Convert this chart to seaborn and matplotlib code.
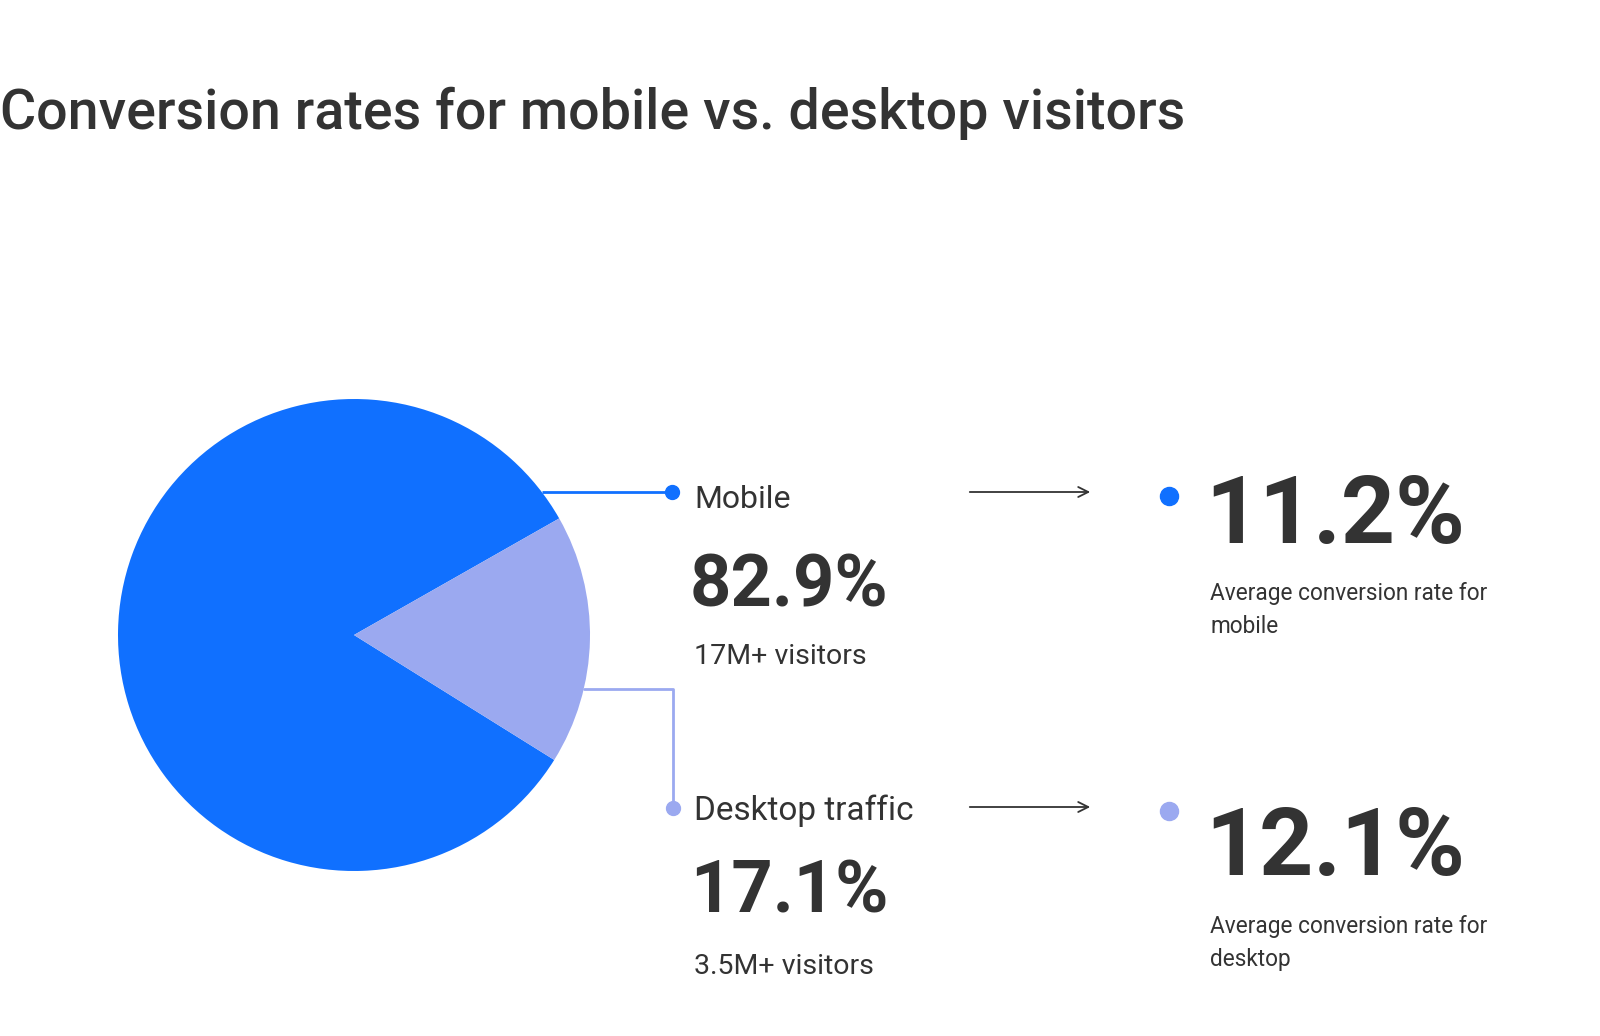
import numpy as np
import matplotlib
matplotlib.use('Agg')
import matplotlib.pyplot as plt
import seaborn as sns

# data
segments = ['Mobile', 'Desktop traffic']
share = [82.9, 17.1]
visitors = ['17M+ visitors', '3.5M+ visitors']
conv_rate = [11.2, 12.1]
conv_label = ['Average conversion rate for\nmobile', 'Average conversion rate for\ndesktop']
title = 'Conversion rates for mobile vs. desktop visitors'

colors = ['#1070ff', '#9ba9f0']
ink = '#333333'

sns.set_style('white')
plt.rcParams['font.family'] = ['Roboto', 'DejaVu Sans']

W, H = 1600, 1036
fig = plt.figure(figsize=(16, 10.36), dpi=100)
ax = fig.add_axes([0, 0, 1, 1])

# pie in pixel space (y flipped so numbers read like the image)
cx, cy, r = 354, 635, 236
ax.pie(share, colors=colors, startangle=29.6, counterclock=True,
       center=(cx, H - cy), radius=r, wedgeprops=dict(linewidth=0))
ax.set_xlim(0, W)
ax.set_ylim(0, H)
ax.axis('off')

def Y(y):
    return H - y

# leader lines
ym = 492
xm = cx + np.sqrt(r ** 2 - (cy - ym) ** 2)
ax.plot([xm, 672], [Y(ym), Y(ym)], color=colors[0], lw=2, solid_capstyle='butt')
ax.plot([672], [Y(ym)], 'o', color=colors[0], ms=10)

yd = 689
xd = cx + np.sqrt(r ** 2 - (yd - cy) ** 2)
ax.plot([xd, 673, 673], [Y(yd), Y(yd), Y(808)], color=colors[1], lw=2)
ax.plot([673], [Y(808)], 'o', color=colors[1], ms=10)

# left text block
label_y = [499, 811]
label_size = [23, 24]
pct_y = [587, 893]
vis_y = [657, 966]
for i in range(2):
    ax.text(694, Y(label_y[i]), segments[i], fontsize=label_size[i], color=ink, va='center', ha='left')
    ax.text(690, Y(pct_y[i]), f'{share[i]}%', fontsize=52, fontweight='bold', color=ink, va='center', ha='left')
    ax.text(694, Y(vis_y[i]), visitors[i], fontsize=20.5, color=ink, va='center', ha='left')

# arrows and right block
arrow_y = [492, 807]
dot_y = [496, 811]
rate_y = [517, 849]
desc_y = [610, 943]
for i in range(2):
    ax.annotate('', xy=(1093, Y(arrow_y[i])), xytext=(967, Y(arrow_y[i])),
                arrowprops=dict(arrowstyle='->', color=ink, lw=1.3, mutation_scale=18))
    ax.plot([1169], [Y(dot_y[i])], 'o', color=colors[i], ms=13)
    ax.text(1205, Y(rate_y[i]), f'{conv_rate[i]}%', fontsize=68, fontweight='bold', color=ink, va='center', ha='left')
    ax.text(1210, Y(desc_y[i]), conv_label[i], fontsize=16.3, color=ink, va='center', ha='left', linespacing=1.6)

fig.text(0, 1 - 113 / H, title, fontsize=40, fontweight='medium', color=ink, va='center', ha='left')

fig.savefig('out.png', dpi=100, facecolor='white')
